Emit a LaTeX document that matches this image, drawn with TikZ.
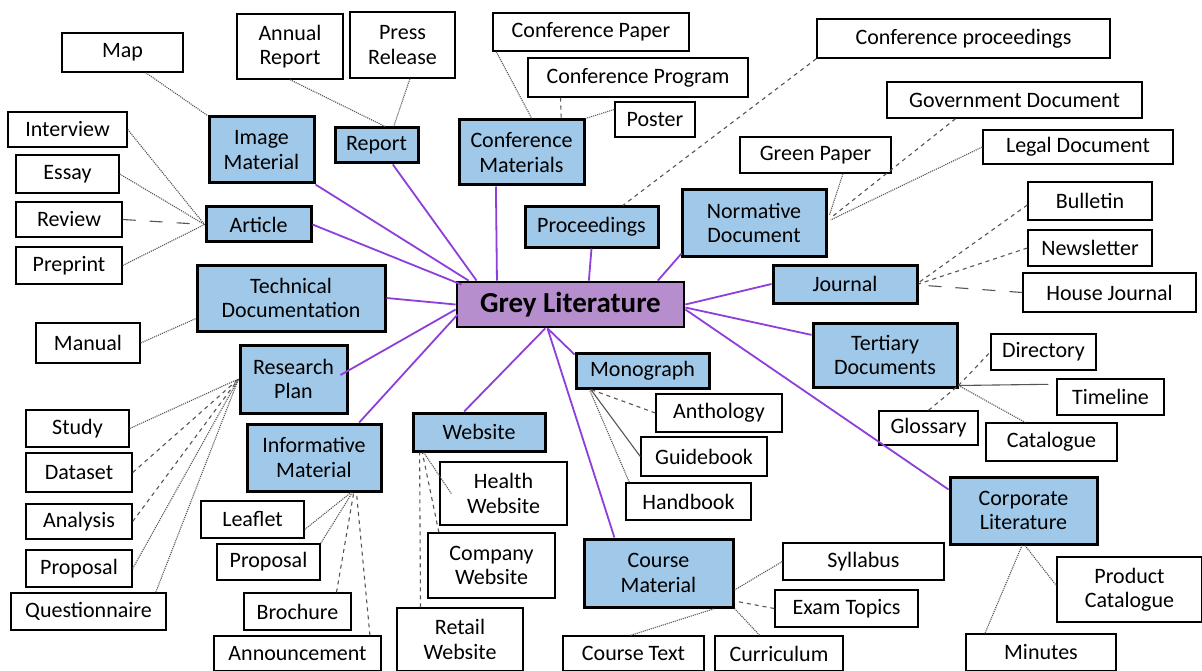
\documentclass[tikz,border=0pt]{standalone}
\usepackage{fontspec}
\setmainfont{Carlito}
\usetikzlibrary{calc}
\definecolor{catfill}{RGB}{160,200,232}
\definecolor{hubfill}{RGB}{182,142,205}
\definecolor{spokecol}{RGB}{142,62,218}
\definecolor{linkcol}{RGB}{85,85,85}
\tikzset{
  sz/.style 2 args={minimum width=#1pt,minimum height=#2pt},
  base/.style={rectangle,inner sep=0pt,align=center,font=\fontsize{22}{24.5}\selectfont},
  hub/.style={base,draw=black,line width=2.8pt,fill=hubfill,font=\fontsize{29}{31}\selectfont\bfseries},
  cat/.style={base,draw=black,line width=3pt,fill=catfill},
  leaf/.style={base,draw=black,line width=1.4pt,fill=white},
  spoke/.style={draw=spokecol,line width=1.8pt},
  link/.style={draw=linkcol,line width=1.1pt,densely dotted},
  dlink/.style={draw=linkcol,line width=1.1pt,dash pattern=on 4pt off 4pt},
  llink/.style={draw=linkcol,line width=1.1pt,dash pattern=on 13pt off 14pt},
  slink/.style={draw=linkcol,line width=1.1pt}
}
\begin{document}
\begin{tikzpicture}[x=1pt,y=-1pt]
\useasboundingbox[fill=white] (0,0) rectangle (1202,671);

% centre node
\node[hub,sz={227}{45}] (main) at (570.5,304.5) {Grey Literature};

% categories
\node[cat,sz={105}{66}]  (img)      at (261.5,150)   {Image\\Material};
\node[cat,sz={83}{35}]   (report)   at (376.5,145.5) {Report};
\node[cat,sz={125}{65}]  (confmat)  at (521.5,152.5) {Conference\\Materials};
\node[cat,sz={105}{35}]  (article)  at (258.5,224.5) {Article};
\node[cat,sz={133}{40}]  (proc)     at (591.5,227)   {Proceedings};
\node[cat,sz={144}{66}]  (norm)     at (754,223)     {Normative\\Document};
\node[cat,sz={144}{38}]  (journal)  at (845,284)     {Journal};
\node[cat,sz={188}{66}]  (techdoc)  at (291,298)     {Technical\\Documentation};
\node[cat,sz={107}{68}]  (resplan)  at (293.5,379)   {Research\\Plan};
\node[cat,sz={144}{64}]  (tertiary) at (885,355)     {Tertiary\\Documents};
\node[cat,sz={133}{35}]  (mono)     at (642.5,370.5) {Monograph};
\node[cat,sz={134}{67}]  (infomat)  at (314,457.5)   {Informative\\Material};
\node[cat,sz={132}{38}]  (website)  at (479,432)     {Website};
\node[cat,sz={149}{68}]  (course)   at (658.5,573)   {Course\\Material};
\node[cat,sz={147}{67}]  (corp)     at (1023.5,510.5){Corporate\\Literature};

% leaves
\node[leaf,sz={121}{39}] (map)       at (122.5,52.5) {Map};
\node[leaf,sz={106}{65}] (annual)    at (290,46.5)   {Annual\\Report};
\node[leaf,sz={105}{66}] (press)     at (402.5,45)   {Press\\Release};
\node[leaf,sz={196}{38}] (confpaper) at (591,32)     {Conference Paper};
\node[leaf,sz={220}{39}] (confprog)  at (638,77.5)   {Conference Program};
\node[leaf,sz={80}{35}]  (poster)    at (655,119.5)  {Poster};
\node[leaf,sz={293}{39}] (confproc)  at (963.5,38.5) {Conference proceedings};
\node[leaf,sz={255}{36}] (govdoc)    at (1014.5,100) {Government Document};
\node[leaf,sz={151}{36}] (green)     at (815.5,155)  {Green Paper};
\node[leaf,sz={190}{34}] (legal)     at (1078,147)   {Legal Document};
\node[leaf,sz={124}{38}] (bulletin)  at (1090,201)   {Bulletin};
\node[leaf,sz={124}{36}] (newsl)     at (1090,248)   {Newsletter};
\node[leaf,sz={173}{39}] (housej)    at (1109.5,292.5) {House Journal};
\node[leaf,sz={119}{35}] (interview) at (67.5,129.5) {Interview};
\node[leaf,sz={103}{38}] (essay)     at (67.5,174)   {Essay};
\node[leaf,sz={106}{35}] (review)    at (69,219.5)   {Review};
\node[leaf,sz={106}{37}] (preprint)  at (69,265.5)   {Preprint};
\node[leaf,sz={104}{40}] (manual)    at (88,343)     {Manual};
\node[leaf,sz={103}{37}] (study)     at (77.5,428.5) {Study};
\node[leaf,sz={106}{39}] (dataset)   at (79,472.5)   {Dataset};
\node[leaf,sz={106}{35}] (analysis)  at (79,521.5)   {Analysis};
\node[leaf,sz={106}{37}] (proposalL) at (79,568.5)   {Proposal};
\node[leaf,sz={155}{37}] (quest)     at (88.5,611.5) {Questionnaire};
\node[leaf,sz={103}{37}] (leaflet)   at (252.5,519.5){Leaflet};
\node[leaf,sz={103}{36}] (proposalM) at (268.5,562)  {Proposal};
\node[leaf,sz={107}{37}] (brochure)  at (297.5,611.5){Brochure};
\node[leaf,sz={167}{35}] (announce)  at (297.5,653.5){Announcement};
\node[leaf,sz={126}{63}] (retail)    at (460,639.5)  {Retail\\Website};
\node[leaf,sz={127}{63}] (health)    at (503.5,493.5){Health\\Website};
\node[leaf,sz={127}{65}] (company)   at (491.5,565.5){Company\\Website};
\node[leaf,sz={126}{38}] (anthology) at (719,413)    {Anthology};
\node[leaf,sz={126}{39}] (guidebook) at (704,456.5)  {Guidebook};
\node[leaf,sz={125}{37}] (handbook)  at (688.5,501.5){Handbook};
\node[leaf,sz={161}{37}] (syllabus)  at (863.5,561.5){Syllabus};
\node[leaf,sz={143}{37}] (exam)      at (846.5,608.5){Exam Topics};
\node[leaf,sz={141}{35}] (coursetext)at (633.5,653.5){Course Text};
\node[leaf,sz={128}{35}] (curric)    at (779,653.5)  {Curriculum};
\node[leaf,sz={105}{36}] (directory) at (1043.5,352) {Directory};
\node[leaf,sz={107}{36}] (timeline)  at (1110.5,397) {Timeline};
\node[leaf,sz={99}{34}]  (glossary)  at (928.5,428)  {Glossary};
\node[leaf,sz={131}{38}] (catalogue) at (1051.5,442) {Catalogue};
\node[leaf,sz={145}{65}] (prodcat)   at (1129.5,589.5){Product\\Catalogue};
\node[leaf,sz={150}{37}] (minutes)   at (1041,652.5) {Minutes};

% spokes from the centre
\draw[spoke] (img.south east) -- ([shift={(13,0)}]main.north west);
\draw[spoke] ($(report.south west)!0.69!(report.south east)$) -- ([shift={(21,0)}]main.north west);
\draw[spoke] ($(confmat.south west)!0.30!(confmat.south east)$) -- ($(main.north west)!0.18!(main.north east)$);
\draw[spoke] (article.east) -- ([shift={(6,4)}]main.north west);
\draw[spoke] (proc.south) -- ($(main.north west)!0.58!(main.north east)$);
\draw[spoke] ([shift={(1,-4)}]norm.south west) -- ($(main.north west)!0.88!(main.north east)$);
\draw[spoke] (journal.west) -- (main.east);
\draw[spoke] (techdoc.east) -- (main.west);
\draw[spoke] ([shift={(-8,-4)}]resplan.east) -- ([shift={(0,5)}]main.west);
\draw[spoke] ($(infomat.north west)!0.83!(infomat.north east)$) -- ([shift={(2,10)}]main.west);
\draw[spoke] ($(website.north west)!0.39!(website.north east)$) -- ($(main.south west)!0.39!(main.south east)$);
\draw[spoke] ([shift={(0,3)}]mono.north west) -- ($(main.south west)!0.40!(main.south east)$);
\draw[spoke] ($(course.north west)!0.21!(course.north east)$) -- ($(main.south west)!0.40!(main.south east)$);
\draw[spoke] ($(tertiary.north west)!0.2!(tertiary.south west)$) -- ([shift={(0,3)}]main.east);
\draw[spoke] ($(corp.north west)!0.2!(corp.south west)$) -- ([shift={(0,5)}]main.east);

% leaf links
\draw[link]  ($(map.south west)!0.69!(map.south east)$) -- (img.north west);
\draw[link]  (annual.south) -- ($(report.north west)!0.6!(report.north east)$);
\draw[link]  ($(press.south west)!0.57!(press.south east)$) -- ($(report.north west)!0.7!(report.north east)$);
\draw[link]  ($(confpaper.south west)!0.02!(confpaper.south east)$) -- ($(confmat.north west)!0.58!(confmat.north east)$);
\draw[dlink] ($(confprog.south west)!0.15!(confprog.south east)$) -- ($(confmat.north west)!0.81!(confmat.north east)$);
\draw[link]  ([shift={(0,-10)}]poster.west) -- (confmat.north east);
\draw[dlink] (confproc.south west) -- ($(proc.north west)!0.73!(proc.north east)$);
\draw[link]  ($(green.south west)!0.68!(green.south east)$) -- ([shift={(2,-8)}]norm.east);
\draw[dlink] ($(govdoc.south west)!0.27!(govdoc.south east)$) -- ([shift={(3,-5)}]norm.east);
\draw[link]  (legal.west) -- ([shift={(3,-3)}]norm.east);
\draw[dlink] ([shift={(0,4)}]bulletin.west) -- ([shift={(1,-2)}]journal.east);
\draw[dlink] (newsl.west) -- (journal.east);
\draw[llink] (housej.west) -- ([shift={(0,1)}]journal.east);
\draw[link]  (interview.east) -- (article.west);
\draw[link]  (essay.east) -- (article.west);
\draw[llink] (review.east) -- (article.west);
\draw[link]  (preprint.east) -- (article.west);
\draw[link]  (manual.east) -- ($(techdoc.north west)!0.8!(techdoc.south west)$);
\draw[link]  (study.east) -- (resplan.west);
\draw[dlink] (dataset.east) -- (resplan.west);
\draw[dlink] (analysis.east) -- (resplan.west);
\draw[link]  (proposalL.east) -- (resplan.west);
\draw[link]  ($(quest.north west)!0.93!(quest.north east)$) -- (resplan.west);
\draw[link]  ([shift={(0,10)}]leaflet.east) -- ($(infomat.south west)!0.77!(infomat.south east)$);
\draw[link]  (proposalM.north east) -- ($(infomat.south west)!0.78!(infomat.south east)$);
\draw[dlink] ($(brochure.north west)!0.86!(brochure.north east)$) -- ($(infomat.south west)!0.79!(infomat.south east)$);
\draw[dlink] ($(announce.north west)!0.93!(announce.north east)$) -- ($(infomat.south west)!0.81!(infomat.south east)$);
\draw[link]  ([shift={(12,0)}]health.west) -- ($(website.south west)!0.09!(website.south east)$);
\draw[dlink] ($(company.north west)!0.09!(company.north east)$) -- ($(website.south west)!0.08!(website.south east)$);
\draw[dlink] ($(retail.north west)!0.19!(retail.north east)$) -- ($(website.south west)!0.06!(website.south east)$);
\draw[dlink] (anthology.west) -- ($(mono.south west)!0.12!(mono.south east)$);
\draw[slink] (guidebook.west) -- ($(mono.south west)!0.12!(mono.south east)$);
\draw[link]  ([shift={(4,0)}]handbook.north west) -- ($(mono.south west)!0.11!(mono.south east)$);
\draw[link]  (syllabus.west) -- ([shift={(0,17)}]course.east);
\draw[dlink] (exam.west) -- ([shift={(0,28)}]course.east);
\draw[link]  ($(curric.north west)!0.35!(curric.north east)$) -- (course.south east);
\draw[link]  ($(coursetext.north west)!0.48!(coursetext.north east)$) -- ($(course.south west)!0.87!(course.south east)$);
\draw[dlink] ([shift={(0,-3)}]tertiary.south east) -- (directory.west);
\draw[dlink] (glossary.north) -- ([shift={(0,-3)}]tertiary.south east);
\draw[slink] ([shift={(0,-3)}]tertiary.south east) -- ([shift={(-8,6)}]timeline.north west);
\draw[link]  ([shift={(0,-3)}]tertiary.south east) -- ($(catalogue.north west)!0.3!(catalogue.north east)$);
\draw[link]  ($(corp.south west)!0.51!(corp.south east)$) -- ([shift={(0,-4)}]prodcat.west);
\draw[link]  ($(minutes.north west)!0.13!(minutes.north east)$) -- ($(corp.south west)!0.49!(corp.south east)$);
\end{tikzpicture}
\end{document}
